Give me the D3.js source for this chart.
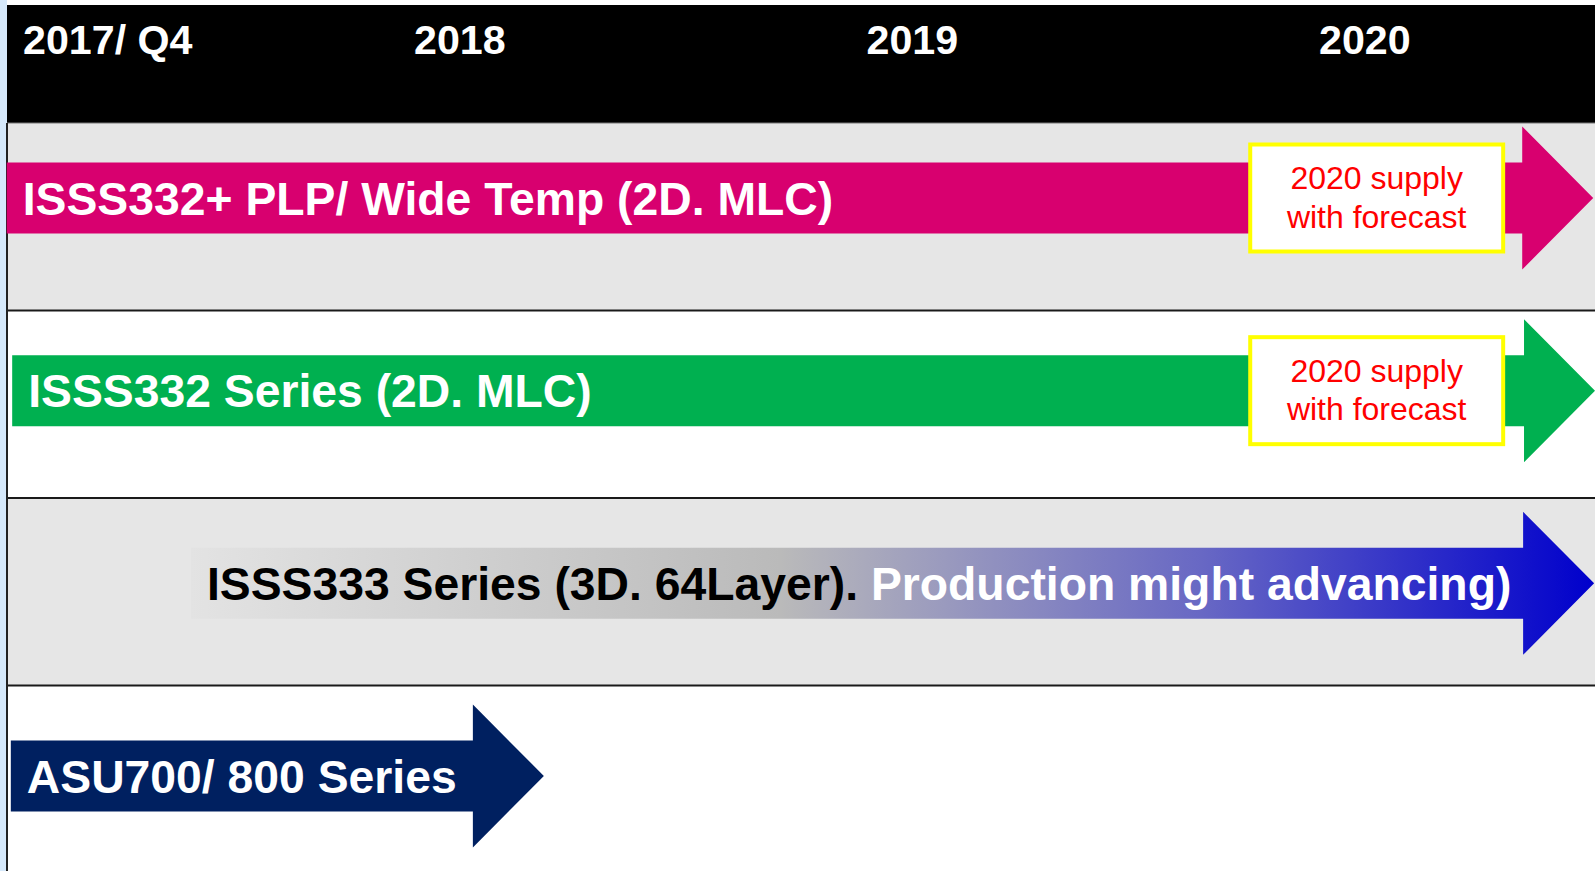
<!DOCTYPE html>
<html>
<head>
<meta charset="utf-8">
<script src="https://cdnjs.cloudflare.com/ajax/libs/d3/7.8.5/d3.min.js"></script>
<style>
  body { margin: 0; background: #fff; }
  text { font-family: Arial, 'Liberation Sans', sans-serif; }
</style>
</head>
<body>
<script>

// header periods (position given in years on the time axis)
var periods = ['2017/ Q4', '2018', '2019', '2020'];
var periodAt = [2017.136, 2018, 2019, 2020];

// product lanes
var products = ['ISSS332+ PLP/ Wide Temp (2D. MLC)', 'ISSS332 Series (2D. MLC)', 'ISSS333 Series (3D. 64Layer). ', 'ASU700/ 800 Series'];
var extraText = ['', '', 'Production might advancing)', ''];
var starts = [2017.100, 2017.112, 2017.507, 2017.109];
var ends = [2020.606, 2020.610, 2020.608, 2018.287];
var notes = ['2020 supply|with forecast', '2020 supply|with forecast', '', ''];
var noteFrom = [2019.848, 2019.848, 0, 0];
var noteTo = [2020.407, 2020.407, 0, 0];
var fills = ['#d8006f', '#00b050', 'url(#grad3)', '#002060'];
var textFill = ['#fff', '#fff', '#000', '#fff'];

var W = 1595, H = 871;

var svg = d3.select('body').append('svg')
      .attr('width', W)
      .attr('height', H);

var x = d3.scaleLinear().domain([2018, 2020]).range([414, 1319]);
var band = d3.scaleBand().domain(products).range([123, 873]);
var lane = d3.scalePoint().domain(products).range([198, 776]);

var defs = svg.append('defs');
var grad = defs.append('linearGradient')
    .attr('id', 'grad3')
    .attr('x1', '0').attr('x2', '1').attr('y1', '0').attr('y2', '0');
grad.append('stop').attr('offset', '0').attr('stop-color', '#e3e3e3');
grad.append('stop').attr('offset', '0.42').attr('stop-color', '#bababa');
grad.append('stop').attr('offset', '0.72').attr('stop-color', '#6868c4');
grad.append('stop').attr('offset', '1').attr('stop-color', '#0000cc');

// left strip + header
svg.append('rect')
    .attr('x', 0).attr('y', 0).attr('width', 7).attr('height', H)
    .attr('fill', '#d6e9fb');
svg.append('rect')
    .attr('x', 7).attr('y', 5).attr('width', W - 7).attr('height', 118)
    .attr('fill', '#000');

svg.selectAll('.period')
    .data(periods)
  .enter().append('text')
    .attr('class', 'period')
    .attr('x', function(d, i) { return x(periodAt[i]); })
    .attr('y', 54)
    .attr('fill', '#fff')
    .attr('font-size', 41.2)
    .attr('font-weight', 'bold')
    .text(function(d) { return d; });

// row backgrounds
svg.selectAll('.rowbg')
    .data(products)
  .enter().append('rect')
    .attr('class', 'rowbg')
    .attr('x', 7)
    .attr('y', function(d) { return band(d); })
    .attr('width', W - 7)
    .attr('height', band.bandwidth())
    .attr('fill', function(d, i) { return i % 2 == 0 ? '#e6e6e6' : '#fff'; });

svg.selectAll('.rowline')
    .data(products.slice(1))
  .enter().append('path')
    .attr('class', 'rowline')
    .attr('d', function(d) { return 'M 7 ' + band(d) + ' H ' + W; })
    .attr('stroke', '#1a1a1a')
    .attr('stroke-width', 2);

svg.append('path')
    .attr('d', 'M 7 123 H ' + W)
    .attr('stroke', '#777')
    .attr('stroke-width', 1);

svg.append('path')
    .attr('d', 'M 7 123 V ' + H)
    .attr('stroke', '#222')
    .attr('stroke-width', 2);

// arrows
var bodyH = 71, headH = 143, headL = 71;

function arrowPath(d, i) {
  var x0 = x(starts[i]), x1 = x(ends[i]), cy = lane(d);
  var hx = x1 - headL;
  return 'M ' + x0 + ' ' + (cy - bodyH / 2) +
    ' H ' + hx + ' V ' + (cy - headH / 2) +
    ' L ' + x1 + ' ' + cy +
    ' L ' + hx + ' ' + (cy + headH / 2) +
    ' V ' + (cy + bodyH / 2) +
    ' H ' + x0 + ' Z';
}

svg.selectAll('.arrow')
    .data(products)
  .enter().append('path')
    .attr('class', 'arrow')
    .attr('d', arrowPath)
    .attr('fill', function(d, i) { return fills[i]; });

var label = svg.selectAll('.plabel')
    .data(products)
  .enter().append('text')
    .attr('class', 'plabel')
    .attr('x', function(d, i) { return x(starts[i]) + 16; })
    .attr('y', function(d) { return lane(d) + 16.5; })
    .attr('font-size', 46.3)
    .attr('font-weight', 'bold')
    .attr('xml:space', 'preserve')
    .style('white-space', 'pre');

label.append('tspan')
    .attr('fill', function(d, i) { return textFill[i]; })
    .text(function(d) { return d; });
label.append('tspan')
    .attr('fill', '#fff')
    .text(function(d, i) { return extraText[i]; });

// forecast notes
var noteRows = products.filter(function(d, i) { return notes[i] != ''; });

svg.selectAll('.notebox')
    .data(noteRows)
  .enter().append('rect')
    .attr('class', 'notebox')
    .attr('x', function(d) { var i = products.indexOf(d); return x(noteFrom[i]); })
    .attr('y', function(d) { return lane(d) - 53.5; })
    .attr('width', function(d) { var i = products.indexOf(d); return x(noteTo[i]) - x(noteFrom[i]); })
    .attr('height', 107)
    .attr('fill', '#fff')
    .attr('stroke', '#ffff00')
    .attr('stroke-width', 4);

var note = svg.selectAll('.note')
    .data(noteRows)
  .enter().append('text')
    .attr('class', 'note')
    .attr('text-anchor', 'middle')
    .attr('font-size', 32)
    .attr('fill', '#ff0000');

note.selectAll('tspan')
    .data(function(d) {
      var i = products.indexOf(d);
      return notes[i].split('|').map(function(t, k) {
        return { t: t, k: k, cx: (x(noteFrom[i]) + x(noteTo[i])) / 2, cy: lane(d) };
      });
    })
  .enter().append('tspan')
    .attr('x', function(d) { return d.cx; })
    .attr('y', function(d) { return d.cy - 9 + d.k * 38.5; })
    .text(function(d) { return d.t; });

</script>
</body>
</html>
